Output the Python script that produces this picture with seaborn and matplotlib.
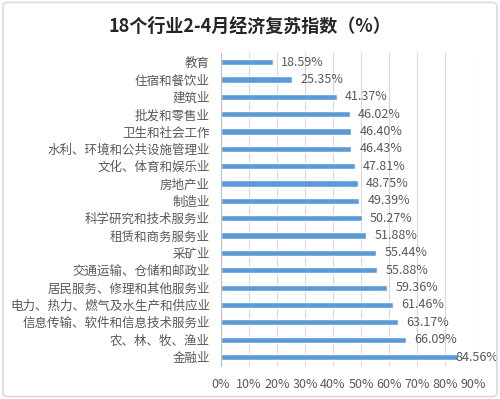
import pandas as pd
import matplotlib.pyplot as plt
import seaborn as sns
from matplotlib.patches import FancyBboxPatch
from matplotlib.ticker import FuncFormatter

industries = [
    "教育", "住宿和餐饮业", "建筑业", "批发和零售业", "卫生和社会工作",
    "水利、环境和公共设施管理业", "文化、体育和娱乐业", "房地产业", "制造业",
    "科学研究和技术服务业", "租赁和商务服务业", "采矿业",
    "交通运输、仓储和邮政业", "居民服务、修理和其他服务业",
    "电力、热力、燃气及水生产和供应业", "信息传输、软件和信息技术服务业",
    "农、林、牧、渔业", "金融业",
]
values = [18.59, 25.35, 41.37, 46.02, 46.40, 46.43, 47.81, 48.75, 49.39,
          50.27, 51.88, 55.44, 55.88, 59.36, 61.46, 63.17, 66.09, 84.56]

df = pd.DataFrame({"行业": industries, "指数": values})

sns.set_theme(style="white")
plt.rcParams["font.family"] = ["Noto Sans CJK SC", "DejaVu Sans"]
plt.rcParams["axes.unicode_minus"] = False

GRAY = "#595959"
BLUE = "#5B9BD5"

fig = plt.figure(figsize=(5, 3.99), dpi=100, facecolor="white")
ax = fig.add_axes([0.442, 0.0835, 0.504, 0.7825])

sns.barplot(data=df, y="行业", x="指数", orient="h", color=BLUE,
            saturation=1, width=0.36, ax=ax)

ax.set_xlim(0, 90)
ax.set_xticks(range(0, 91, 10))
ax.xaxis.set_major_formatter(FuncFormatter(lambda v, p: f"{v:.0f}%"))
ax.grid(axis="x", color="#D9D9D9", lw=0.8)
ax.set_axisbelow(True)
for s in ["top", "right", "bottom"]:
    ax.spines[s].set_visible(False)
ax.spines["left"].set_color("#BFBFBF")
ax.spines["left"].set_linewidth(0.8)
ax.tick_params(axis="both", length=0, colors=GRAY, labelsize=9)
ax.tick_params(axis="x", pad=9)
ax.tick_params(axis="y", pad=8)
ax.set_xlabel("")
ax.set_ylabel("")

# 最长一条的标签贴着条尾，避免超出图框
for i, v in enumerate(values):
    off = 6 if v < 80 else -2
    ax.annotate(f"{v:.2f}%", xy=(v, i), xytext=(off, 0), textcoords="offset points",
                va="center", ha="left", fontsize=9, color=GRAY)

fig.text(0.5, 0.935, "18个行业2-4月经济复苏指数（%）", ha="center", va="center",
         fontsize=13, fontweight="bold", color="#262626")

fig.patches.append(FancyBboxPatch((0.006, 0.006), 0.988, 0.988,
                                  boxstyle="round,pad=0,rounding_size=0.01",
                                  transform=fig.transFigure, fill=False,
                                  edgecolor="#D6DCE5", lw=1.2))

fig.savefig("out.png", dpi=100, facecolor="white")
